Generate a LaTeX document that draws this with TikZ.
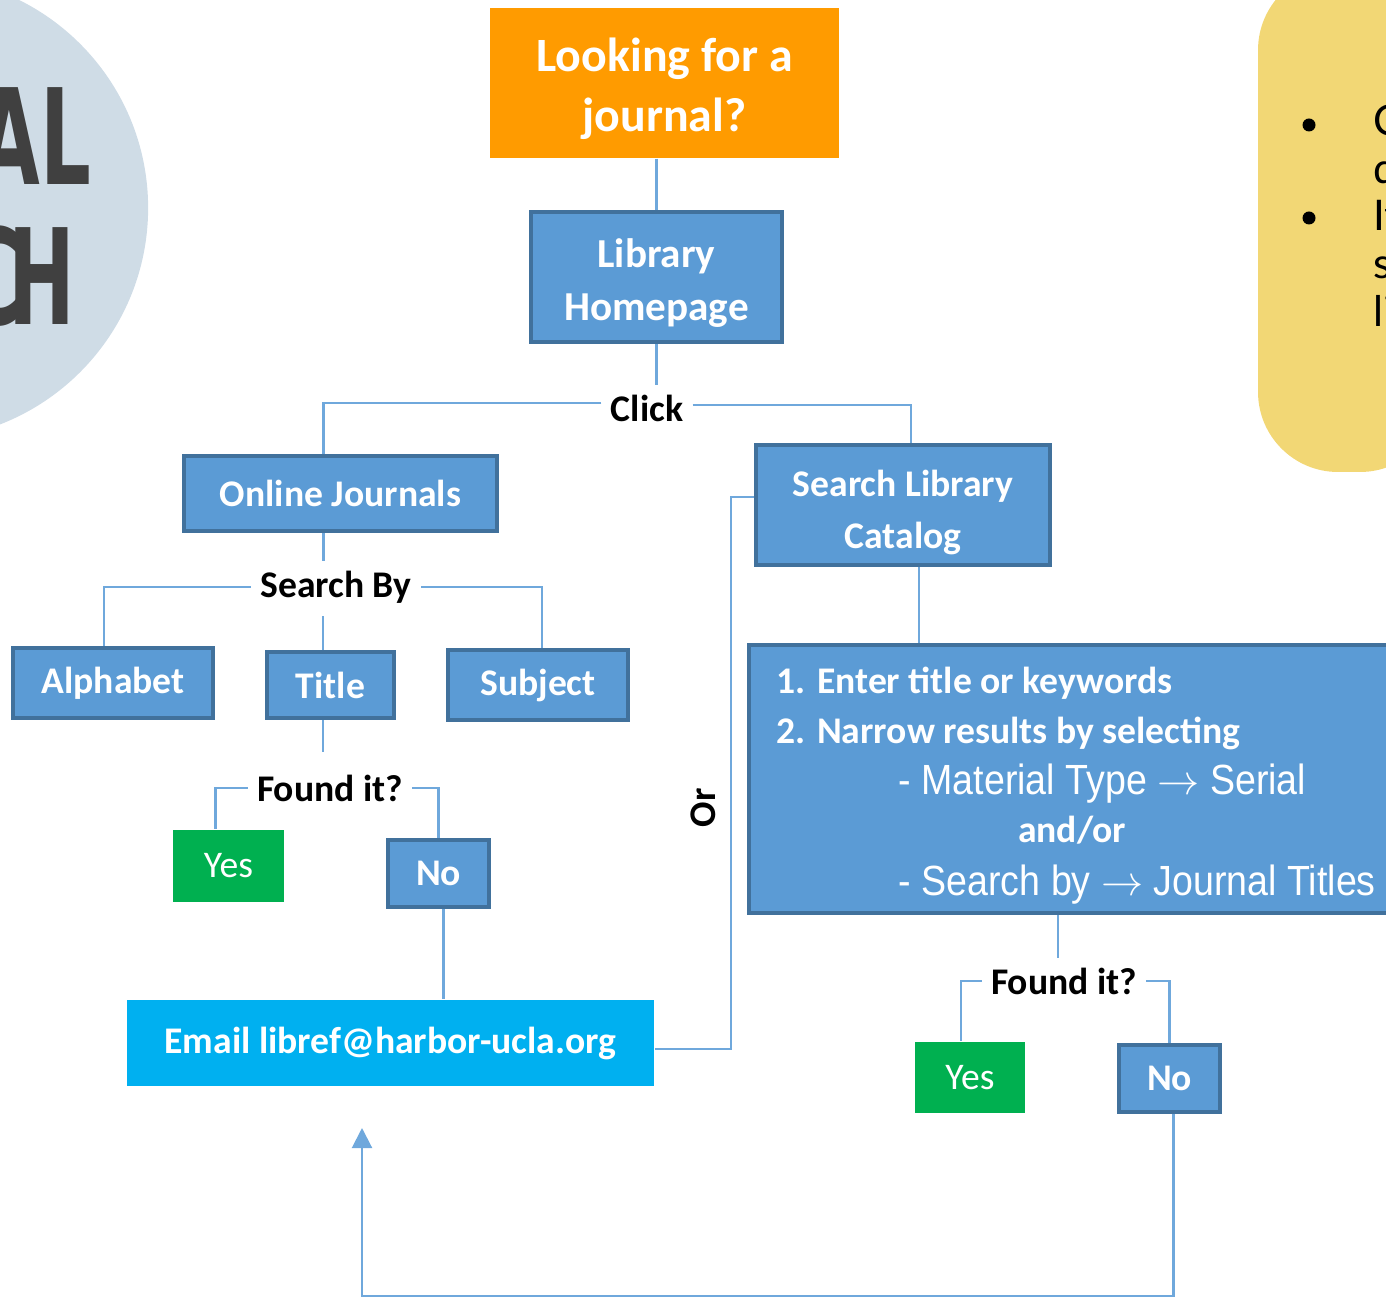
\documentclass[tikz,border=0pt]{standalone}
\usepackage{fontspec}
\setmainfont{Carlito}
\newfontfamily\arialfont{Liberation Sans}[FakeStretch=0.89]
\newfontfamily\heavyfont{DejaVu Sans}[FakeStretch=0.6]
\newfontfamily\notefont{Lato}
\usetikzlibrary{arrows.meta,positioning}

\definecolor{boxblue}{HTML}{5B9BD5}
\definecolor{boxedge}{HTML}{41719C}
\definecolor{lineblue}{HTML}{6FA8DC}
\definecolor{startorange}{HTML}{FF9B00}
\definecolor{yesgreen}{HTML}{00B050}
\definecolor{mailcyan}{HTML}{00B0F0}
\definecolor{circlegray}{HTML}{CFDCE6}
\definecolor{noteyellow}{HTML}{F2D775}
\definecolor{darkgray}{HTML}{404040}

% two centred lines, set a little lower in their box
\newcommand\twolines[2]{\raisebox{-1.9pt}[\height][\depth]{\begin{tabular}{@{}c@{}}#1\\#2\end{tabular}}}

\begin{document}
\begin{tikzpicture}[x=0.01cm, y=-0.01cm,
	box/.style={draw=boxedge, line width=1pt, fill=boxblue, text=white, inner sep=0pt,
		align=center, font=\fontsize{10.7}{15}\selectfont\bfseries},
	yesbox/.style={fill=yesgreen, text=white, inner sep=0pt,
		font=\fontsize{10.7}{13}\selectfont},
	lbl/.style={inner sep=2.5pt, font=\fontsize{10.7}{13}\selectfont\bfseries},
	steptxt/.style={text=white, inner sep=0pt, anchor=base west,
		font=\fontsize{10.7}{13}\selectfont\bfseries},
	subtxt/.style={text=white, inner sep=0pt, anchor=base west,
		font=\arialfont\fontsize{12}{14}\selectfont},
	conn/.style={draw=lineblue, line width=0.6pt}]

	\useasboundingbox (0,0) rectangle (1386,1298);
	\clip (0,0) rectangle (1386,1298);

	% side decorations
	\fill[circlegray] (-84,208) circle[radius=2.32cm];
	\node[anchor=base east, inner sep=0pt, text=darkgray,
		font=\heavyfont\bfseries\fontsize{37.8}{40}\selectfont] (al) at (92,185) {AL};
	\node[anchor=base east, inner sep=0pt, text=darkgray,
		font=\heavyfont\bfseries\fontsize{37.8}{40}\selectfont] (ch) at (76,325) {C\kern-0.1em H};

	\fill[noteyellow, rounded corners=0.8cm] (1258,-30) rectangle (1440,472);
	\node[circle, fill=black, inner sep=0pt, minimum size=0.13cm] (b1) at (1309,125) {};
	\node[circle, fill=black, inner sep=0pt, minimum size=0.13cm] (b2) at (1309,218) {};
	\node[anchor=base west, inner sep=0pt, font=\notefont\fontsize{12}{14}\selectfont] (n1) at (1373,136) {C};
	\node[anchor=base west, inner sep=0pt, font=\notefont\fontsize{12}{14}\selectfont] (n2) at (1373,184) {d};
	\node[anchor=base west, inner sep=0pt, font=\notefont\fontsize{12}{14}\selectfont] (n3) at (1373,231) {If};
	\node[anchor=base west, inner sep=0pt, font=\notefont\fontsize{12}{14}\selectfont] (n4) at (1373,279) {s};
	\node[anchor=base west, inner sep=0pt, font=\notefont\fontsize{12}{14}\selectfont] (n5) at (1373,327) {li};

	% main flow
	\node[fill=startorange, text=white, inner sep=0pt,
		minimum width=3.49cm, minimum height=1.5cm,
		font=\fontsize{13.6}{17.1}\selectfont\bfseries] (look) at (664.5,83) {\twolines{Looking for a}{journal?}};
	\node[box, minimum width=2.51cm, minimum height=1.3cm,
		font=\fontsize{11.7}{15.1}\selectfont\bfseries] (home) at (656.5,277) {\twolines{Library}{Homepage}};
	\node[lbl] (click) at (647,408) {Click};
	\node[box, minimum width=3.13cm, minimum height=0.75cm] (online) at (340.5,493.5) {Online Journals};
	\node[box, minimum width=2.94cm, minimum height=1.2cm,
		font=\fontsize{10.7}{14.8}\selectfont\bfseries] (slc) at (903,505) {\twolines{Search Library}{Catalog}};

	\node[lbl] (sby) at (336,587) {Search By};
	\node[box, minimum width=2cm, minimum height=0.7cm] (alpha) at (113,683) {Alphabet};
	\node[box, minimum width=1.27cm, minimum height=0.66cm] (title) at (330.5,685) {Title};
	\node[box, minimum width=1.8cm, minimum height=0.7cm] (subj) at (538,685) {Subject};

	\node[lbl] (found1) at (330,788) {Found it?};
	\node[yesbox, minimum width=1.11cm, minimum height=0.72cm] (yes1) at (228.5,866) {Yes};
	\node[box, minimum width=1.01cm, minimum height=0.67cm] (no1) at (438.5,873.5) {No};

	\node[fill=mailcyan, text=white, inner sep=0pt, minimum width=5.27cm, minimum height=0.86cm,
		font=\fontsize{10.7}{13}\selectfont\bfseries] (email) at (390.5,1043) {Email libref@harbor-ucla.org};

	\node[box, minimum width=6.6cm, minimum height=2.68cm] (steps) at (1079,779) {};
	\node[steptxt] (s1) at (776,693) {1. Enter title or keywords};
	\node[steptxt] (s2) at (776,743) {2. Narrow results by selecting};
	\node[subtxt] (s3) at (898,794) {- Material Type $\rightarrow$ Serial};
	\node[steptxt, anchor=base] (s4) at (1072,842) {and/or};
	\node[subtxt] (s5) at (898,895) {- Search by $\rightarrow$ Journal Titles};

	\node[lbl] (found2) at (1064,981) {Found it?};
	\node[yesbox, minimum width=1.1cm, minimum height=0.71cm] (yes2) at (970,1077.5) {Yes};
	\node[box, minimum width=1.01cm, minimum height=0.67cm] (no2) at (1169.5,1078.5) {No};

	\node[lbl, rotate=90] (orlbl) at (703,808) {Or};
	\coordinate (back) at (362,1128);

	% connectors
	\path[conn]
		(look.south -| home.north) -- (home.north)
		(home.south) -- (home.south |- click.north)
		([yshift=0.05cm]click.west) -| ([xshift=-0.17cm]online.north)
		([yshift=0.03cm]click.east) -| ([xshift=0.08cm]slc.north)
		([xshift=-0.17cm]online.south) -- ([xshift=-0.17cm]online.south |- sby.north)
		(sby.west) -| ([xshift=-0.09cm]alpha.north)
		(sby.east) -| ([xshift=0.04cm]subj.north)
		(title.north -| found1) ++(-7,0) -- ++(0,-34)
		(title.south -| found1) ++(-7,0) -- ++(0,32)
		(found1.west) -| ([xshift=-0.13cm]yes1.north)
		(found1.east) -| (no1.north)
		([xshift=0.05cm]no1.south) -- ([xshift=0.05cm]no1.south |- email.north)
		([yshift=-0.06cm]email.east) -- ++(76,0) |- ([yshift=0.08cm]slc.west)
		([xshift=0.16cm]slc.south) -- ([xshift=0.16cm]slc.south |- steps.north)
		([xshift=-0.06cm]found2.north |- steps.south) -- ([xshift=-0.06cm]found2.north)
		(found2.west) -| ([xshift=-0.09cm]yes2.north)
		(found2.east) -| (no2.north);
	\draw[conn, -{Triangle[width=0.2cm, length=0.2cm]}]
		([xshift=0.04cm]no2.south) -- ++(0,182) -| (back);
\end{tikzpicture}
\end{document}
